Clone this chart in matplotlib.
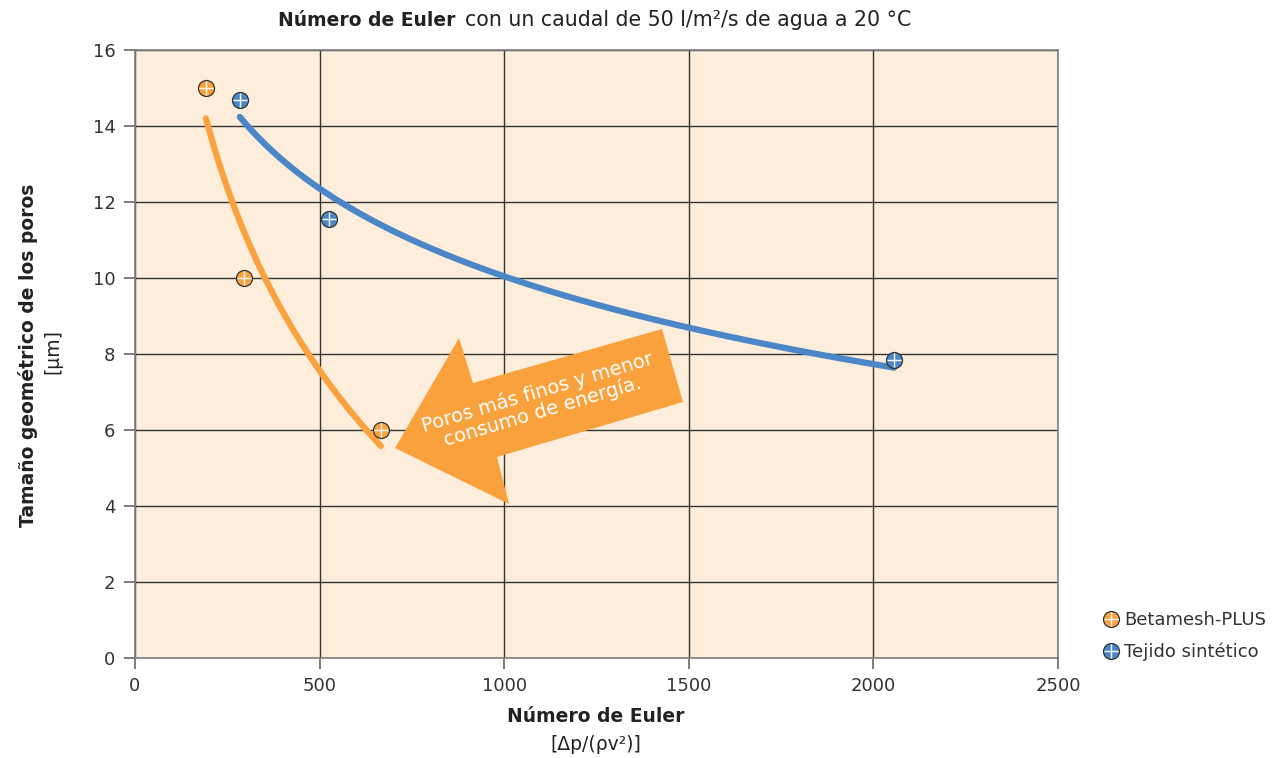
import numpy as np
import matplotlib
matplotlib.use('Agg')
from matplotlib import pyplot as plt
from matplotlib.lines import Line2D
from matplotlib.patches import Polygon

plt.rcParams['font.family'] = ['DejaVu Sans']

# Data
beta_x = [192, 295, 666]
beta_y = [15.0, 10.0, 6.0]
tej_x = [284, 525, 2056]
tej_y = [14.68, 11.55, 7.84]

labels = ['Betamesh-PLUS', 'Tejido sintético']
orange = '#F9A23F'
blue = '#4A86C8'
bg = '#FDEEDC'

W, H = 1274, 758
fig = plt.figure(figsize=(W / 100, H / 100), dpi=100)
ax = fig.add_axes([135 / W, 1 - 658 / H, 923 / W, 608 / H])
ax.set_facecolor(bg)

# logarithmic trend lines (like a spreadsheet fit)
def log_trend(xs, ys):
    b, a = np.polyfit(np.log(xs), ys, 1)
    xx = np.linspace(min(xs), max(xs), 200)
    return xx, a + b * np.log(xx)

xx, yy = log_trend(beta_x, beta_y)
ax.plot(xx, yy, color=orange, lw=4.5, solid_capstyle='round', zorder=3)
xx, yy = log_trend(tej_x, tej_y)
ax.plot(xx, yy, color=blue, lw=4.5, solid_capstyle='round', zorder=3)

# markers: circle with white cross
for xs, ys, c in [(beta_x, beta_y, orange), (tej_x, tej_y, blue)]:
    ax.plot(xs, ys, 'o', ms=11.5, mfc=c, mec='#333333', mew=0.9, zorder=4)
    ax.plot(xs, ys, '+', ms=10, mec='white', mew=1.0, zorder=5)

ax.set_xlim(0, 2500)
ax.set_ylim(0, 16)
ax.set_xticks(np.arange(0, 2501, 500))
ax.set_yticks(np.arange(0, 17, 2))
ax.grid(True, color='#333333', lw=1.0)
ax.set_axisbelow(True)
for s in ax.spines.values():
    s.set_color('#808080')
    s.set_linewidth(1.2)
ax.tick_params(length=8, width=1.2, color='#666666', labelsize=13,
               labelcolor='#333333', pad=6)

# arrow annotation (pixel outline)
def px(x, y):
    return (x / W, 1 - y / H)

arrow_pts = [(395, 448), (459, 338), (473, 383), (662, 329),
             (683, 402), (497, 457), (509, 504)]
fig.patches.append(Polygon([px(*p) for p in arrow_pts], closed=True,
                           transform=fig.transFigure, facecolor='#F9A13C',
                           edgecolor='none', zorder=6))
fig.text(540 / W, 1 - 402 / H, 'Poros más finos y menor\nconsumo de energía.',
         color='white', fontsize=14, rotation=16.5, ha='center', va='center',
         linespacing=1.0, rotation_mode='anchor', zorder=7)

# titles and axis labels
fig.text(455 / W, 1 - 20 / H, 'Número de Euler', fontsize=13.5, weight='bold',
         ha='right', va='center', color='#222222')
fig.text(465 / W, 1 - 20 / H, 'con un caudal de 50 l/m²/s de agua a 20 °C',
         fontsize=14.8, ha='left', va='center', color='#222222')
fig.text(596 / W, 1 - 717 / H, 'Número de Euler', fontsize=13.5, weight='bold',
         ha='center', va='center', color='#222222')
fig.text(596 / W, 1 - 744 / H, '[Δp/(ρv²)]', fontsize=13.5,
         ha='center', va='center', color='#222222')
fig.text(28 / W, 1 - 355 / H, 'Tamaño geométrico de los poros', fontsize=13.5,
         weight='bold', rotation=90, ha='center', va='center', color='#222222')
fig.text(53 / W, 1 - 352 / H, '[µm]', fontsize=13.5, rotation=90,
         ha='center', va='center', color='#222222')

# legend
handles = []
for c in [orange, blue]:
    h1 = Line2D([], [], ls='none', marker='o', ms=11.5, mfc=c, mec='#333333', mew=0.9)
    h2 = Line2D([], [], ls='none', marker='+', ms=10, mec='white', mew=1.0)
    handles.append((h1, h2))
fig.legend(handles, labels, loc='center left', bbox_to_anchor=(1088 / W, 1 - 636 / H),
           frameon=False, fontsize=13, handlelength=0.8, handletextpad=0.3,
           labelspacing=0.75, labelcolor='#333333')

fig.savefig('out.png', dpi=100, facecolor='white')
